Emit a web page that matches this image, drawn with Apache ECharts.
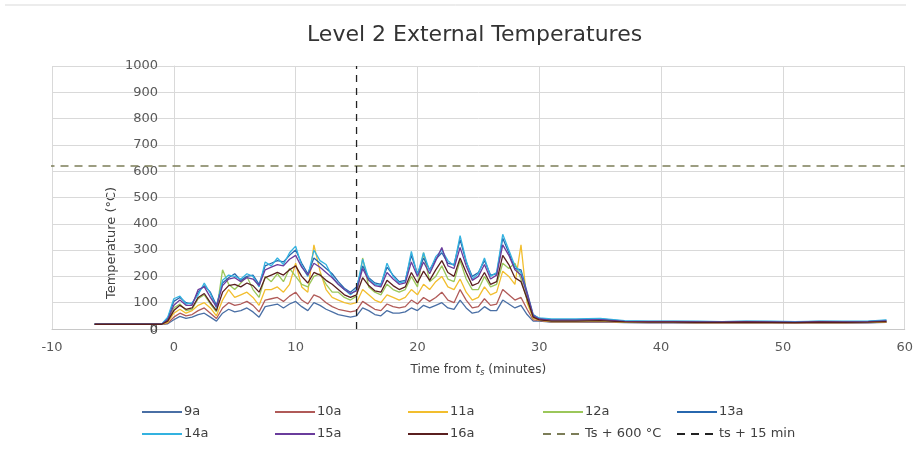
<!DOCTYPE html>
<html>
<head>
<meta charset="utf-8">
<script src="https://cdn.jsdelivr.net/npm/echarts@6/dist/echarts.min.js"></script>
<style>
    html, body {margin: 0; padding: 0; background: #fff;}
    #main {width: 916px; height: 458px;}
</style>
</head>
<body>
<div id="main"></div>
<script>
// 时间 (minutes from ts)
const times = [-6.5, -1, -0.5, 0, 0.5, 1, 1.5, 2, 2.5, 3,
    3.5, 4, 4.5, 5, 5.5, 6, 6.5, 7, 7.5, 8,
    8.5, 9, 9.5, 10, 10.5, 11, 11.5, 12, 12.5, 13,
    13.5, 14, 14.5, 15, 15.5, 16, 16.5, 17, 17.5, 18,
    18.5, 19, 19.5, 20, 20.5, 21, 21.5, 22, 22.5, 23,
    23.5, 24, 24.5, 25, 25.5, 26, 26.5, 27, 27.5, 28,
    28.5, 29, 29.5, 30, 31, 33, 35, 37, 39, 41,
    43, 45, 47, 49, 51, 53, 55, 57, 58.5];

// 各测点温度
const t9a = [18, 18, 20, 35, 48, 40, 45, 55, 60, 45,
    30, 60, 75, 65, 70, 80, 65, 45, 85, 90,
    95, 80, 95, 105, 85, 70, 100, 90, 75, 65,
    55, 50, 45, 50, 80, 70, 55, 50, 70, 60,
    60, 65, 80, 70, 90, 80, 90, 100, 80, 75,
    110, 80, 60, 65, 85, 70, 70, 110, 95, 80,
    90, 55, 30, 30, 26, 26, 27, 24, 23, 23,
    22, 22, 23, 22, 22, 23, 22, 23, 25];
const t10a = [18, 18, 22, 45, 60, 50, 55, 70, 80, 60,
    40, 80, 100, 90, 95, 105, 90, 65, 110, 115,
    120, 105, 125, 140, 110, 95, 130, 120, 100, 85,
    75, 70, 65, 70, 105, 90, 75, 70, 95, 85,
    80, 85, 110, 95, 120, 105, 120, 140, 110, 100,
    150, 110, 80, 85, 115, 90, 95, 150, 130, 110,
    120, 75, 35, 32, 27, 27, 28, 25, 24, 24,
    23, 23, 24, 23, 23, 24, 23, 24, 26];
const t11a = [18, 18, 25, 60, 75, 60, 70, 90, 100, 80,
    50, 110, 150, 120, 130, 140, 120, 90, 150, 150,
    160, 140, 170, 250, 160, 140, 320, 220, 150, 120,
    110, 100, 95, 100, 150, 130, 110, 100, 130, 120,
    110, 120, 150, 130, 170, 150, 180, 200, 160, 150,
    190, 140, 110, 120, 160, 130, 140, 220, 200, 170,
    320, 100, 40, 34, 28, 28, 30, 26, 25, 25,
    24, 24, 25, 24, 24, 25, 24, 25, 27];
const t12a = [18, 18, 30, 80, 95, 70, 75, 115, 130, 95,
    65, 225, 170, 150, 175, 200, 150, 120, 200, 180,
    210, 180, 230, 200, 170, 160, 200, 210, 170, 140,
    140, 120, 110, 125, 270, 160, 140, 130, 170, 150,
    140, 150, 200, 160, 290, 180, 200, 240, 190, 180,
    260, 190, 150, 150, 200, 160, 170, 250, 230, 250,
    190, 110, 45, 36, 30, 30, 32, 27, 26, 26,
    25, 26, 26, 25, 25, 26, 25, 26, 29];
const t13a = [18, 18, 40, 105, 120, 100, 95, 140, 165, 140,
    90, 175, 195, 210, 185, 200, 205, 170, 240, 250,
    260, 255, 280, 300, 250, 210, 270, 250, 230, 210,
    180, 155, 140, 160, 240, 195, 175, 170, 235, 205,
    180, 185, 280, 210, 270, 225, 265, 290, 250, 245,
    340, 255, 200, 215, 260, 205, 210, 345, 290, 230,
    225, 140, 55, 40, 36, 36, 38, 30, 29, 29,
    28, 28, 29, 28, 27, 29, 28, 29, 33];
const t14a = [18, 18, 45, 115, 125, 95, 100, 130, 175, 135,
    80, 185, 205, 200, 190, 210, 200, 160, 255, 240,
    270, 245, 290, 315, 240, 200, 300, 260, 245, 200,
    170, 150, 130, 150, 265, 190, 170, 165, 250, 200,
    175, 180, 295, 205, 290, 220, 275, 300, 260, 240,
    355, 260, 190, 210, 270, 200, 215, 360, 300, 240,
    215, 130, 50, 42, 38, 38, 40, 32, 30, 30,
    30, 28, 30, 30, 28, 30, 30, 30, 35];
const t15a = [18, 18, 35, 90, 110, 90, 90, 150, 160, 120,
    85, 165, 190, 195, 180, 195, 190, 165, 225, 235,
    245, 240, 265, 280, 235, 205, 250, 235, 215, 195,
    170, 150, 135, 145, 230, 185, 165, 160, 215, 190,
    170, 175, 255, 200, 255, 210, 260, 310, 240, 230,
    310, 240, 185, 200, 245, 190, 205, 320, 280, 225,
    205, 135, 50, 38, 34, 34, 36, 29, 28, 28,
    27, 27, 28, 27, 26, 28, 27, 28, 31];
const t16a = [18, 18, 30, 70, 90, 75, 80, 120, 135, 100,
    70, 140, 165, 170, 160, 175, 165, 140, 195, 205,
    215, 205, 225, 240, 200, 175, 215, 205, 185, 170,
    150, 130, 120, 130, 195, 165, 145, 140, 185, 165,
    150, 160, 215, 175, 220, 185, 225, 260, 215, 200,
    270, 215, 165, 175, 215, 170, 180, 280, 245, 195,
    180, 115, 45, 35, 30, 30, 32, 27, 26, 26,
    25, 25, 26, 25, 24, 26, 25, 26, 28];

// 参考线
const refTempX = [-11.6, 60];
const refTempY = [620, 620];
const refTimeX = [15, 15];
const refTimeY = [0, 1000];

const seriesNames = ['9a', '10a', '11a', '12a', '13a', '14a', '15a', '16a'];
const seriesValues = [t9a, t10a, t11a, t12a, t13a, t14a, t15a, t16a];
const seriesColors = ['#4A6FA5', '#B05A58', '#F2BE2E', '#9BC75A', '#2767AE', '#33B2E0', '#6A3C9C', '#5A1F1F'];
const refTempName = 'Ts + 600 °C';
const refTimeName = 'ts + 15 min';

const xTicks = {min: -10, max: 60, interval: 10};
const yTicks = {min: 0, max: 1000, interval: 100};

const FONT = 'DejaVu Sans';
const TEXT_COLOR = '#595959';
const SOLID_ICON = 'path://M0,0H40V2H0Z';
const DASH_ICON = 'path://M0,0H8V2H0Z M14,0H22V2H14Z M28,0H36V2H28Z M40,0H40V2H40Z';

const zip = (xs, ys) => xs.map((x, i) => [x, ys[i]]);

const series = seriesNames.map((name, i) => ({
    name: name,
    type: 'line',
    symbol: 'none',
    data: zip(times, seriesValues[i]),
    lineStyle: {width: 1.3, color: seriesColors[i]},
    itemStyle: {color: seriesColors[i]}
}));

series.push({
    name: refTempName,
    type: 'line',
    symbol: 'none',
    clip: false,
    data: zip(refTempX, refTempY),
    lineStyle: {width: 1.5, color: '#7C7D58', type: [8, 6]},
    itemStyle: {color: '#7C7D58'}
});
series.push({
    name: refTimeName,
    type: 'line',
    symbol: 'none',
    data: zip(refTimeX, refTimeY),
    lineStyle: {width: 1.3, color: '#222', type: [7, 6]},
    itemStyle: {color: '#222'}
});

// 图例按列排列
const legendColumns = [
    ['9a', '14a'],
    ['10a', '15a'],
    ['11a', '16a'],
    ['12a', refTempName],
    ['13a', refTimeName]
];
const legendLefts = [142, 275, 408, 543, 677];

const legend = legendColumns.map((names, i) => ({
    orient: 'vertical',
    left: legendLefts[i],
    top: 405,
    padding: 0,
    itemGap: 8,
    itemWidth: 40,
    itemHeight: 2,
    data: names.map(n => ({
        name: n,
        icon: (n === refTempName || n === refTimeName) ? DASH_ICON : SOLID_ICON
    })),
    selectedMode: false,
    textStyle: {fontFamily: FONT, fontSize: 13, color: '#404040', lineHeight: 14, padding: [0, 0, 0, -3]}
}));

const chart = echarts.init(document.getElementById('main'));
chart.setOption({
    animation: false,
    backgroundColor: '#fff',
    title: {
        text: 'Level 2 External Temperatures',
        left: 302,
        top: 19,
        textStyle: {fontFamily: FONT, fontSize: 22, fontWeight: 'normal', color: '#333'}
    },
    legend: legend,
    grid: {left: 52, right: 10, top: 66, bottom: 129, containLabel: false},
    xAxis: {
        type: 'value',
        min: xTicks.min,
        max: xTicks.max,
        interval: xTicks.interval,
        name: 'Time from {i|t}{s|s} (minutes)',
        nameLocation: 'middle',
        nameGap: 34,
        nameTextStyle: {
            fontFamily: FONT, fontSize: 12, color: '#404040',
            rich: {
                i: {fontFamily: FONT, fontSize: 12, fontStyle: 'italic', color: '#404040'},
                s: {fontFamily: FONT, fontSize: 8, fontStyle: 'italic', color: '#404040', padding: [6, 0, 0, 0]}
            }
        },
        axisLine: {show: true, onZero: false, lineStyle: {color: '#C8C8C8'}},
        axisTick: {show: false},
        axisLabel: {fontFamily: FONT, fontSize: 13, color: TEXT_COLOR, margin: 12},
        splitLine: {show: true, lineStyle: {color: '#D9D9D9'}}
    },
    yAxis: {
        type: 'value',
        position: 'left',
        // 纵轴放在 x=0 处
        offset: -122,
        min: yTicks.min,
        max: yTicks.max,
        interval: yTicks.interval,
        axisLine: {show: true, onZero: false, lineStyle: {color: '#D9D9D9'}},
        axisTick: {show: false},
        axisLabel: {
            fontFamily: FONT, fontSize: 13, color: TEXT_COLOR, margin: 16,
            showMinLabel: true, hideOverlap: false,
            formatter: v => String(v)
        },
        splitLine: {show: true, lineStyle: {color: '#D9D9D9'}}
    },
    graphic: [
        {
            type: 'text',
            x: 112,
            y: 243,
            rotation: Math.PI / 2,
            style: {
                text: 'Temperature (°C)',
                font: '13px "DejaVu Sans"',
                fill: '#404040',
                textAlign: 'center',
                textVerticalAlign: 'middle'
            }
        },
        {
            // 原点处的 0
            type: 'text',
            x: 158,
            y: 331,
            z: 100,
            style: {
                text: String(yTicks.min),
                font: '13px "DejaVu Sans"',
                fill: '#4a4a4a',
                textAlign: 'right',
                textVerticalAlign: 'middle'
            }
        },
        {
            type: 'line',
            shape: {x1: 5, y1: 5, x2: 906, y2: 5},
            style: {stroke: '#D9D9D9', lineWidth: 1}
        }
    ],
    series: series
});
</script>
</body>
</html>
